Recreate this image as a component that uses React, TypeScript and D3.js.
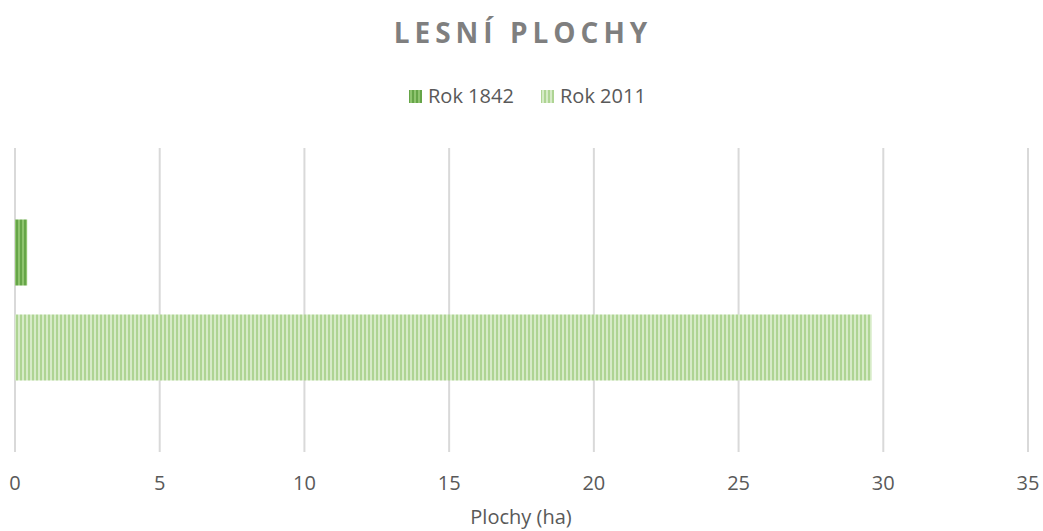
import React from "react";
import * as d3 from "d3";

const title = "LESNÍ PLOCHY";
const category = ["Lesní plochy"];
const seriesNames = ["Rok 1842", "Rok 2011"];
const seriesValues = [0.42, 29.6];
const xTicks = [0, 5, 10, 15, 20, 25, 30, 35];
const xAxisTitle = "Plochy (ha)";

const W = 1043;
const H = 531;
const plot = { left: 15, right: 1028, top: 148, bottom: 452 };
const font = "'Open Sans', 'DejaVu Sans', sans-serif";

const patterns = [
  { id: "p1842", base: "#66a548", stripe: "#8fc46f" },
  { id: "p2011", base: "#aed493", stripe: "#d6ebc7" },
];

export default function App() {
  const x = d3.scaleLinear().domain([0, 35]).range([plot.left, plot.right]);
  const y0 = d3
    .scaleBand<string>()
    .domain(category)
    .range([plot.top, plot.bottom])
    .paddingOuter(0.444)
    .paddingInner(0);
  const y1 = d3
    .scaleBand<string>()
    .domain(seriesNames)
    .range([0, y0.bandwidth()])
    .paddingInner(0.305)
    .paddingOuter(0);

  const legendItems = [
    { name: seriesNames[0], sx: 409, tx: 428 },
    { name: seriesNames[1], sx: 541, tx: 560 },
  ];

  return (
    <svg
      width={W}
      height={H}
      style={{ position: "absolute", left: 0, top: 0, background: "#fff" }}
    >
      <defs>
        {patterns.map((p) => (
          <pattern
            key={p.id}
            id={p.id}
            width={4}
            height={4}
            patternUnits="userSpaceOnUse"
          >
            <rect width={4} height={4} fill={p.base} />
            <rect x={2} width={2} height={4} fill={p.stripe} />
          </pattern>
        ))}
      </defs>
      <rect width={W} height={H} fill="#fff" />
      <text
        x={523}
        y={43}
        textAnchor="middle"
        fontFamily={font}
        fontWeight="bold"
        fontSize={28}
        letterSpacing={5}
        fill="#7f7f7f"
      >
        {title}
      </text>
      {legendItems.map((l, i) => (
        <g key={l.name}>
          <rect x={l.sx} y={90} width={13} height={13} fill={`url(#${patterns[i].id})`} />
          <text x={l.tx} y={103} fontFamily={font} fontSize={20} fill="#595959">
            {l.name}
          </text>
        </g>
      ))}
      {xTicks.map((t) => (
        <line
          key={t}
          x1={x(t)}
          x2={x(t)}
          y1={plot.top}
          y2={plot.bottom}
          stroke="#d9d9d9"
          strokeWidth={2}
        />
      ))}
      {category.map((c) => (
        <g key={c} transform={`translate(0,${y0(c)})`}>
          {seriesNames.map((s, i) => (
            <rect
              key={s}
              x={x(0)}
              y={y1(s)}
              width={x(seriesValues[i]) - x(0)}
              height={y1.bandwidth()}
              fill={`url(#${patterns[i].id})`}
            />
          ))}
        </g>
      ))}
      {xTicks.map((t) => (
        <text
          key={t}
          x={x(t)}
          y={490}
          textAnchor="middle"
          fontFamily={font}
          fontSize={20}
          fill="#595959"
        >
          {t}
        </text>
      ))}
      <text
        x={521}
        y={524}
        textAnchor="middle"
        fontFamily={font}
        fontSize={20}
        fill="#595959"
      >
        {xAxisTitle}
      </text>
    </svg>
  );
}
